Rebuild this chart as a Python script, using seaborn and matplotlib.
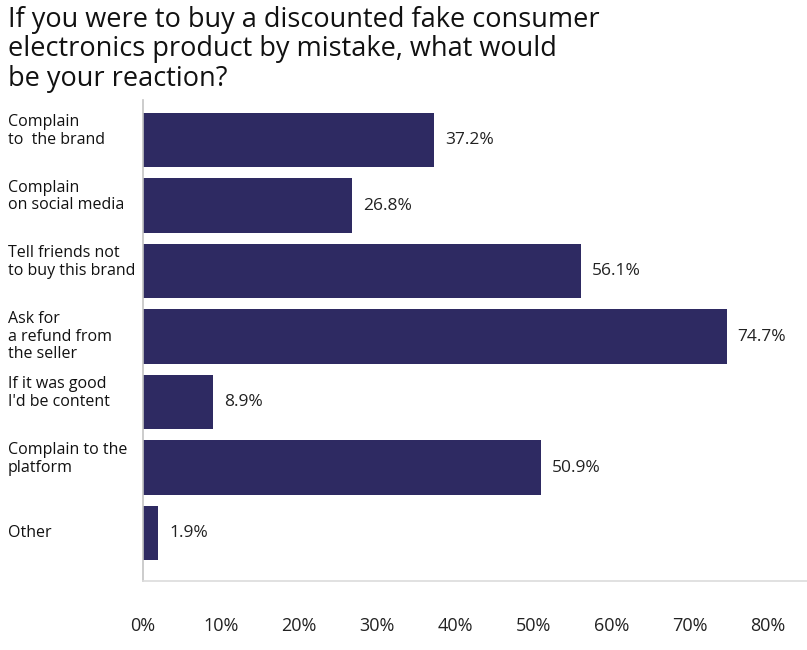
import pandas as pd
import matplotlib.pyplot as plt
import matplotlib.transforms as mtransforms
import seaborn as sns

reactions = [
    "Complain\nto  the brand",
    "Complain\non social media",
    "Tell friends not\nto buy this brand",
    "Ask for\na refund from\nthe seller",
    "If it was good\nI'd be content",
    "Complain to the\nplatform",
    "Other",
]
shares = [37.2, 26.8, 56.1, 74.7, 8.9, 50.9, 1.9]
tick_values = [0, 10, 20, 30, 40, 50, 60, 70, 80]

df = pd.DataFrame({"reaction": reactions, "share": shares})

sns.set_style("white")
plt.rcParams["font.family"] = ["Open Sans", "DejaVu Sans"]

fig = plt.figure(figsize=(8.07, 6.5), dpi=100)
ax = fig.add_axes([143 / 807, 1 - 581 / 650, 1 - 143 / 807, (581 - 100) / 650])

sns.barplot(data=df, y="reaction", x="share", orient="h", color="#2e2a62",
            width=0.83, saturation=1, linewidth=0, ax=ax)

ax.bar_label(ax.containers[0], labels=[f"{v}%" for v in shares], padding=8,
             fontsize=12.5, color="#222222")

ax.set_xlim(0, 85)
ax.set_ylim(6.73, -0.61)
ax.set_xticks(tick_values)
ax.set_xticklabels([f"{t}%" for t in tick_values], fontsize=13, color="#222222")
ax.tick_params(axis="x", length=0, pad=26)
ax.set_yticks([])
ax.set_xlabel("")
ax.set_ylabel("")

for side in ["top", "right"]:
    ax.spines[side].set_visible(False)
ax.spines["left"].set_color("#c4c4c4")
ax.spines["bottom"].set_color("#dcdcdc")
ax.spines["left"].set_linewidth(1.2)
ax.spines["bottom"].set_linewidth(1.2)

# category labels, left aligned at the figure edge
trans = mtransforms.blended_transform_factory(fig.transFigure, ax.transData)
for i, lab in enumerate(reactions):
    nlines = lab.count("\n") + 1
    t = trans
    if nlines == 2:
        t = trans + mtransforms.ScaledTranslation(0, 9 / 100, fig.dpi_scale_trans)
    ax.text(8 / 807, i, lab, transform=t, ha="left", va="center",
            fontsize=11.5, color="#111111", linespacing=1.15)

fig.text(8 / 807, 1 - 6 / 650,
         "If you were to buy a discounted fake consumer\nelectronics product by mistake, what would\nbe your reaction?",
         ha="left", va="top", fontsize=19.5, color="#111111", linespacing=1.07)

fig.savefig("out.png", dpi=100)
